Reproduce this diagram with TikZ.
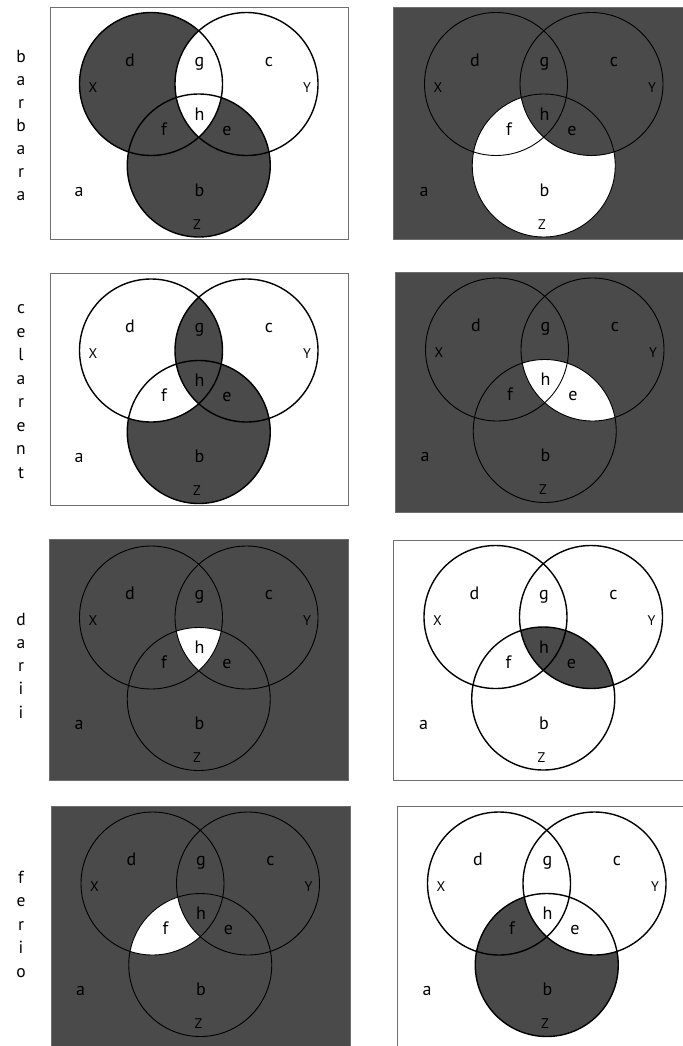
\documentclass[tikz,border=0pt]{standalone}
\usepackage{fontspec}
\setmainfont{PT Sans}
\definecolor{vdark}{RGB}{74,74,74}
\definecolor{framegray}{RGB}{110,110,110}
\tikzset{
  lab/.style={font=\fontsize{18bp}{18bp}\selectfont, anchor=base, inner sep=0pt},
  caplab/.style={font=\fontsize{14bp}{14bp}\selectfont, anchor=base, inner sep=0pt},
  side/.style={font=\fontsize{17.5bp}{17.5bp}\selectfont, anchor=base, inner sep=0pt},
  ring/.style={draw=black, line width=1.4bp},
  ringdark/.style={draw=black, line width=0.9bp},
  whiteframe/.style={draw=framegray, line width=1bp, fill=white},
  darkframe/.style={draw=framegray, line width=1bp, fill=vdark},
  darkfill/.style={fill=vdark},
  lightfill/.style={fill=white},
}
\newcommand\VCX{(0,0) circle[radius=71.5bp]}
\newcommand\VCY{(95.5,0) circle[radius=71.5bp]}
\newcommand\VCZ{(47.75,81.5) circle[radius=71.5bp]}
\newcommand\VLabels[1]{%
  \node[lab] (#1-d) at (-21,-18) {d};
  \node[lab] (#1-g) at (48.5,-18) {g};
  \node[lab] (#1-c) at (118,-18) {c};
  \node[caplab] (#1-X) at (-58,8) {X};
  \node[caplab] (#1-Y) at (156,8) {Y};
  \node[lab] (#1-h) at (48.5,36) {h};
  \node[lab] (#1-f) at (13,51) {f};
  \node[lab] (#1-e) at (76,51) {e};
  \node[lab] (#1-b) at (48.5,112) {b};
  \node[caplab] (#1-Z) at (46,145) {Z};
  \node[lab] (#1-a) at (-72,112) {a};
}
\newcommand\VRings[1]{\draw[#1] \VCX; \draw[#1] \VCY; \draw[#1] \VCZ;}
\begin{document}
\begin{tikzpicture}[x=1bp,y=-1bp]
\useasboundingbox (0,0) rectangle (683,1046);
\clip (0,0) rectangle (683,1046);
\fill[white] (0,0) rectangle (683,1046);

% side words
\foreach \t [count=\i] in {b,a,r,b,a,r,a}
  \node[side] (s1-\i) at (21,{62+23*(\i-1)}) {\t};
\foreach \t [count=\i] in {c,e,l,a,r,e,n,t}
  \node[side] (s2-\i) at (21,{313.5+23.5*(\i-1)}) {\t};
\foreach \t [count=\i] in {d,a,r,i,i}
  \node[side] (s3-\i) at (21,{625+23.25*(\i-1)}) {\t};
\foreach \t [count=\i] in {f,e,r,i,o}
  \node[side] (s4-\i) at (21,{883+23.5*(\i-1)}) {\t};

% Panel 1: barbara left
\path[whiteframe] (50,7) rectangle (348,239);
\begin{scope}[shift={(151,84)}]
  \path[darkfill] \VCX; \path[darkfill] \VCZ;
  \begin{scope} \clip \VCX; \path[lightfill] \VCY; \end{scope}
  \VRings{ring}
  \VLabels{p1}
\end{scope}

% Panel 2: barbara right
\path[darkframe] (393,7) rectangle (690,239);
\begin{scope}[shift={(496,84)}]
  \path[lightfill] \VCZ;
  \begin{scope} \clip \VCZ; \path[darkfill] \VCY; \end{scope}
  \VRings{ringdark}
  \VLabels{p2}
\end{scope}

% Panel 3: celarent left
\path[whiteframe] (50,273) rectangle (348,505);
\begin{scope}[shift={(151,350.5)}]
  \path[darkfill] \VCZ;
  \begin{scope} \clip \VCX; \path[lightfill] \VCZ; \end{scope}
  \begin{scope} \clip \VCX; \path[darkfill] \VCY; \end{scope}
  \VRings{ring}
  \VLabels{p3}
\end{scope}

% Panel 4: celarent right
\path[darkframe] (395,272) rectangle (690,512);
\begin{scope}[shift={(497,349.5)}]
  \begin{scope} \clip \VCY; \path[lightfill] \VCZ; \end{scope}
  \VRings{ringdark}
  \VLabels{p4}
\end{scope}

% Panel 5: darii left
\path[darkframe] (49,539) rectangle (348,780);
\begin{scope}[shift={(151,617.5)}]
  \begin{scope} \clip \VCX; \clip \VCY; \path[lightfill] \VCZ; \end{scope}
  \VRings{ringdark}
  \VLabels{p5}
\end{scope}

% Panel 6: darii right
\path[whiteframe] (393,540) rectangle (690,780);
\begin{scope}[shift={(495.5,617)}]
  \begin{scope} \clip \VCY; \path[darkfill] \VCZ; \end{scope}
  \VRings{ring}
  \VLabels{p6}
\end{scope}

% Panel 7: ferio left
\path[darkframe] (51,806) rectangle (350,1060);
\begin{scope}[shift={(152.5,883.5)}]
  \begin{scope} \clip \VCX; \path[lightfill] \VCZ; \end{scope}
  \begin{scope} \clip \VCX; \clip \VCY; \path[darkfill] \VCZ; \end{scope}
  \VRings{ringdark}
  \VLabels{p7}
\end{scope}

% Panel 8: ferio right
\path[whiteframe] (397,806) rectangle (690,1060);
\begin{scope}[shift={(499,883.5)}]
  \path[darkfill] \VCZ;
  \begin{scope} \clip \VCZ; \path[lightfill] \VCY; \end{scope}
  \VRings{ring}
  \VLabels{p8}
\end{scope}
\end{tikzpicture}
\end{document}
